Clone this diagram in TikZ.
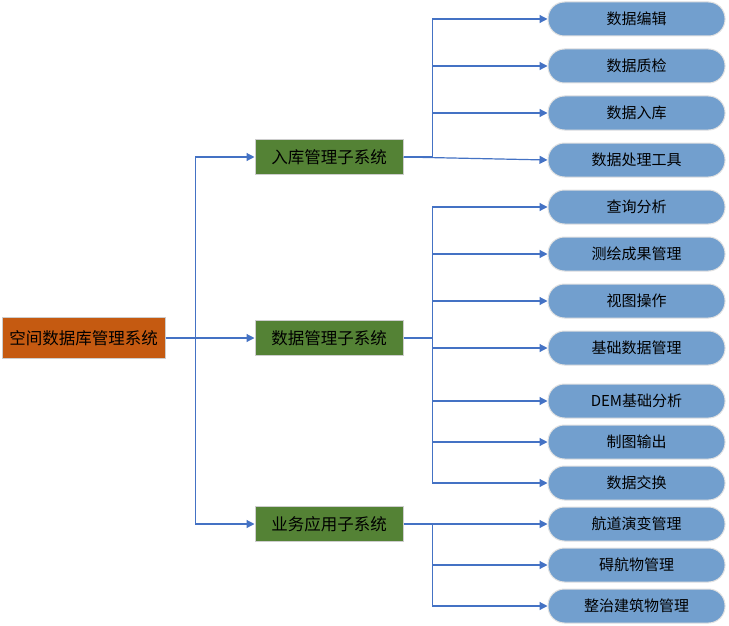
\documentclass[tikz,border=0pt]{standalone}
\usepackage{fontspec}
\setmainfont{Noto Sans CJK SC}
\usetikzlibrary{arrows.meta}
\definecolor{arrowblue}{HTML}{4472C4}
\definecolor{leafblue}{RGB}{114,159,206}
\definecolor{midgreen}{HTML}{548235}
\definecolor{rootorange}{HTML}{C55A11}
\definecolor{edgegray}{RGB}{205,205,205}
\tikzset{
  rootbox/.style={draw=edgegray, line width=1pt, fill=rootorange, minimum width=163pt, minimum height=41pt, inner sep=0pt, font=\fontsize{16.5}{18}\selectfont},
  midbox/.style={draw=edgegray, line width=1pt, fill=midgreen, minimum width=148pt, minimum height=35pt, inner sep=0pt, font=\fontsize{16.5}{18}\selectfont},
  leafbox/.style={draw=edgegray!60!white, line width=1pt, fill=leafblue, rounded corners=16.5pt, minimum width=177pt, minimum height=34pt, inner sep=0pt, font=\fontsize{15}{16}\selectfont},
  arr/.style={draw=arrowblue, line width=1.2pt, -{Triangle[length=8pt,width=8pt]}},
  ln/.style={draw=arrowblue, line width=1.2pt}
}
\begin{document}
\begin{tikzpicture}[x=1pt,y=-1pt]
\useasboundingbox[fill=white] (0,0) rectangle (729,626);
\node[rootbox] (root) at (83.5,338) {空间数据库管理系统};
\node[midbox] (m1) at (329,157) {入库管理子系统};
\node[midbox] (m2) at (329,338) {数据管理子系统};
\node[midbox] (m3) at (329,524) {业务应用子系统};
\node[leafbox] (l1) at (636.5,19) {数据编辑};
\node[leafbox] (l2) at (636.5,66) {数据质检};
\node[leafbox] (l3) at (636.5,113) {数据入库};
\node[leafbox] (l4) at (636.5,160) {数据处理工具};
\node[leafbox] (l5) at (636.5,207) {查询分析};
\node[leafbox] (l6) at (636.5,254) {测绘成果管理};
\node[leafbox] (l7) at (636.5,301) {视图操作};
\node[leafbox] (l8) at (636.5,348) {基础数据管理};
\node[leafbox] (l9) at (636.5,401) {DEM基础分析};
\node[leafbox] (l10) at (636.5,442) {制图输出};
\node[leafbox] (l11) at (636.5,483) {数据交换};
\node[leafbox] (l12) at (636.5,524) {航道演变管理};
\node[leafbox] (l13) at (636.5,565) {碍航物管理};
\node[leafbox] (l14) at (636.5,606) {整治建筑物管理};
% root to mids
\coordinate (rt) at ([xshift=30pt]root.east);
\draw[ln] (root.east) -- (rt);
\draw[arr] (rt) |- (m1.west);
\draw[arr] (rt) -- (m2.west);
\draw[arr] (rt) |- (m3.west);
% m1
\coordinate (b1) at ([xshift=29pt]m1.east);
\draw[ln] (m1.east) -- (b1);
\draw[arr] (b1) |- (l1.west);
\draw[arr] (b1) |- (l2.west);
\draw[arr] (b1) |- (l3.west);
\draw[arr] (m1.east) -- (l4.west);
% m2
\coordinate (b2) at ([xshift=29pt]m2.east);
\draw[ln] (m2.east) -- (b2);
\foreach \n in {l5,l6,l7,l8,l9,l10,l11}{\draw[arr] (b2) |- (\n.west);}
% m3
\coordinate (b3) at ([xshift=29pt]m3.east);
\draw[ln] (m3.east) -- (b3);
\draw[arr] (b3) -- (l12.west);
\draw[arr] (b3) |- (l13.west);
\draw[arr] (b3) |- (l14.west);
\end{tikzpicture}
\end{document}
